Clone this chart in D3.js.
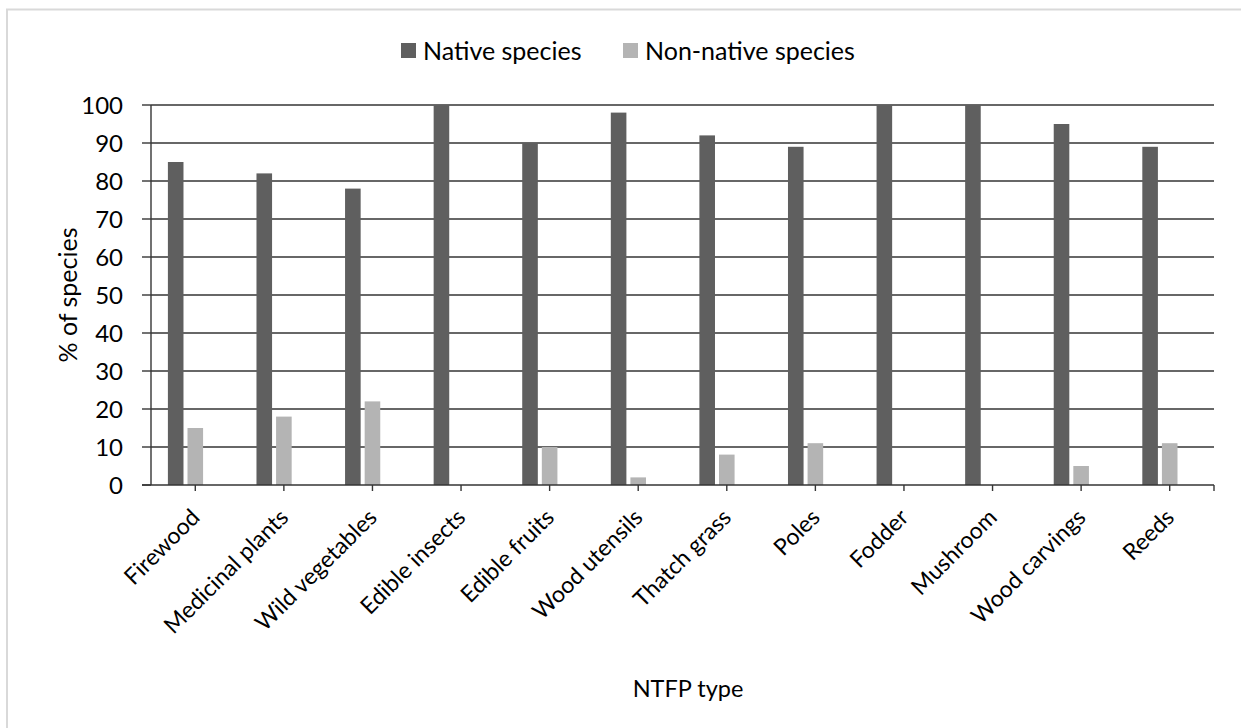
<!DOCTYPE html>
<html><head><meta charset="utf-8">
<script src="https://cdn.jsdelivr.net/npm/d3@7"></script>
<style>body{margin:0;background:#fff}svg{display:block}text{font-family:Lato,"Open Sans",sans-serif;fill:#000}</style>
</head><body><svg id="c" width="1241" height="728"></svg>
<script>
const categories = ["Firewood","Medicinal plants","Wild vegetables","Edible insects","Edible fruits","Wood utensils","Thatch grass","Poles","Fodder","Mushroom","Wood carvings","Reeds"];
const nativeValues = [85,82,78,100,90,98,92,89,100,100,95,89];
const nonNativeValues = [15,18,22,0,10,2,8,11,0,0,5,11];
const seriesNames = ["Native species","Non-native species"];
const seriesColors = ["#5f5f5f","#b4b4b4"];
const yTicks = [0,10,20,30,40,50,60,70,80,90,100];

const svg = d3.select("#c");
const L=151, R=1214, T=105, B=485;

// outer border
svg.append("line").attr("x1",6).attr("x2",1241).attr("y1",9.5).attr("y2",9.5).attr("stroke","#d9d9d9").attr("stroke-width",2);
svg.append("line").attr("x1",7).attr("x2",7).attr("y1",9).attr("y2",728).attr("stroke","#d9d9d9").attr("stroke-width",2);

const x = d3.scaleBand().domain(categories).range([L,R]).paddingInner(0).paddingOuter(0);
const y = d3.scaleLinear().domain([0,100]).range([B,T]);
const bw = x.bandwidth();
const barW = bw*0.176, step = bw*0.2213;

// gridlines
svg.append("g").selectAll("line").data(yTicks.filter(d=>d>0)).join("line")
  .attr("x1",L).attr("x2",R).attr("y1",d=>y(d)).attr("y2",d=>y(d))
  .attr("stroke","#353535").attr("stroke-width",1.4);

// bars
const series=[nativeValues,nonNativeValues];
series.forEach((vals,si)=>{
  svg.append("g").selectAll("rect").data(categories).join("rect")
    .attr("x",(d)=>x(d)+bw/2+(si-1)*step-barW/2)
    .attr("width",barW)
    .attr("y",(d,i)=>y(vals[i]))
    .attr("height",(d,i)=>y(0)-y(vals[i]))
    .attr("fill",seriesColors[si]);
});

// y axis
svg.append("line").attr("x1",L).attr("x2",L).attr("y1",T).attr("y2",B).attr("stroke","#353535").attr("stroke-width",1.4);
svg.append("g").selectAll("line").data(yTicks).join("line")
  .attr("x1",L-9).attr("x2",L).attr("y1",d=>y(d)).attr("y2",d=>y(d)).attr("stroke","#353535").attr("stroke-width",1.4);
svg.append("g").selectAll("text").data(yTicks).join("text")
  .attr("x",123).attr("y",d=>y(d)).attr("dy","0.36em").attr("text-anchor","end")
  .style("font-size","24px").text(d=>d);

// x axis
svg.append("line").attr("x1",L-9).attr("x2",R).attr("y1",B).attr("y2",B).attr("stroke","#353535").attr("stroke-width",1.4);
const tickXs = categories.map(c=>x(c)+bw/2).concat([R]);
svg.append("g").selectAll("line").data(tickXs).join("line")
  .attr("x1",d=>d).attr("x2",d=>d).attr("y1",B).attr("y2",B+6).attr("stroke","#353535").attr("stroke-width",1.4);
svg.append("g").selectAll("text").data(categories).join("text")
  .attr("transform",d=>`translate(${x(d)+bw/2},${B+28}) rotate(-45)`)
  .attr("text-anchor","end").attr("dy","0.36em")
  .style("font-size","23px").text(d=>d);

// axis titles
svg.append("text").attr("transform",`translate(77,${(T+B)/2}) rotate(-90)`)
  .attr("text-anchor","middle").style("font-size","25px").text("% of species");
svg.append("text").attr("x",688).attr("y",697).attr("text-anchor","middle").style("font-size","23.5px").text("NTFP type");

// legend
const lg = svg.append("g");
const legX=[401,623];
seriesNames.forEach((n,i)=>{
  lg.append("rect").attr("x",legX[i]).attr("y",43).attr("width",15).attr("height",15).attr("fill",seriesColors[i]);
  lg.append("text").attr("x",legX[i]+22).attr("y",51).attr("dy","0.36em").style("font-size","25px").text(n);
});
</script></body></html>
